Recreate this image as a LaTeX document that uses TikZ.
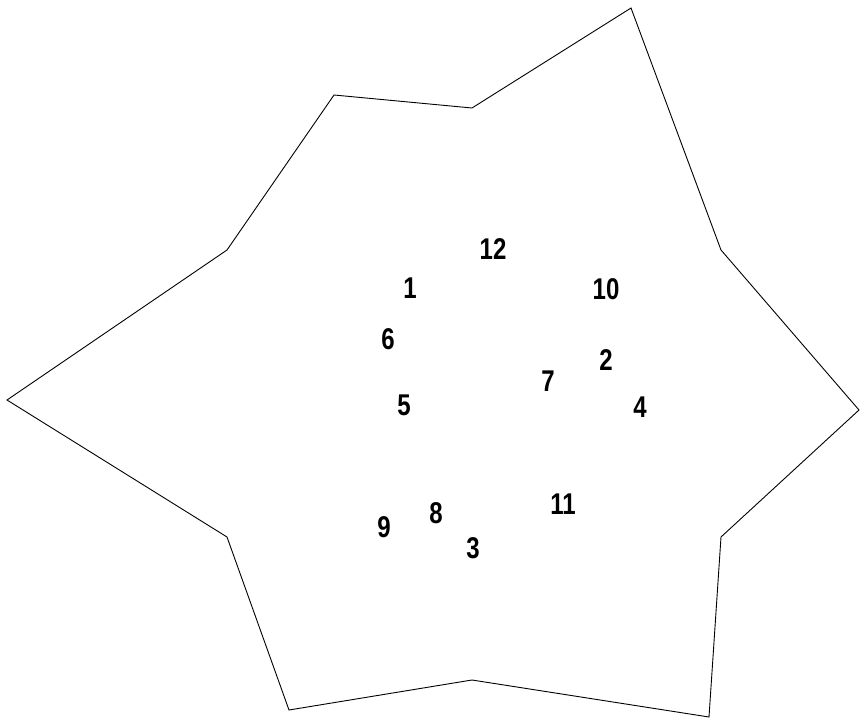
\documentclass[tikz,border=0pt]{standalone}
\usepackage{fontspec}
\setmainfont{Liberation Sans}
\begin{document}
\begin{tikzpicture}[x=1pt,y=-1pt,
  lbl/.style={font=\fontsize{30}{32}\selectfont\bfseries, xscale=0.8, inner sep=0pt, anchor=center}]
\useasboundingbox (0,0) rectangle (860,720);
\draw[line width=0.9pt, line join=miter]
  (631,8) -- (721,250) -- (859,410) -- (721,537) -- (709,717) -- (472,680)
  -- (289,710) -- (227,537) -- (7,400) -- (227,250) -- (334,95) -- (472,108) -- cycle;
\node[lbl] (n12) at (493,249) {12};
\node[lbl] (n1)  at (410,288) {1};
\node[lbl] (n10) at (606,289) {10};
\node[lbl] (n6)  at (388,339) {6};
\node[lbl] (n2)  at (606,360) {2};
\node[lbl] (n7)  at (548,381) {7};
\node[lbl] (n5)  at (404,405) {5};
\node[lbl] (n4)  at (640,407) {4};
\node[lbl] (n11) at (563,504) {11};
\node[lbl] (n8)  at (436,513) {8};
\node[lbl] (n9)  at (384,527) {9};
\node[lbl] (n3)  at (473,548) {3};
\end{tikzpicture}
\end{document}
